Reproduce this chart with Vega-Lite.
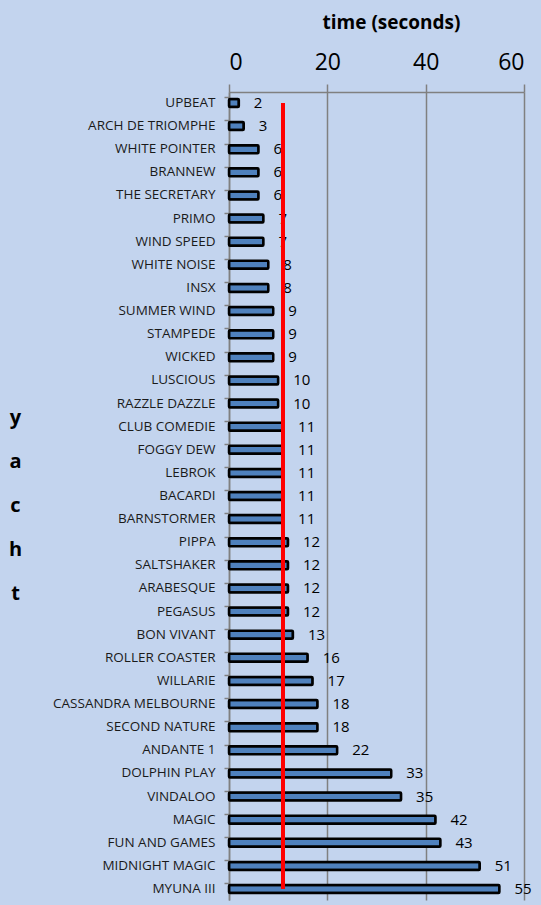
{
  "$schema": "https://vega.github.io/schema/vega-lite/v6.json",
  "width": 295,
  "height": 808,
  "autosize": {"type": "none"},
  "padding": {"left": 229, "top": 92, "right": 17, "bottom": 5},
  "background": "#c3d4ee",
  "config": {
    "view": {"stroke": null},
    "font": "Open Sans"
  },
  "data": {
    "values": [
      {"yacht": "UPBEAT", "time": 2},
      {"yacht": "ARCH DE TRIOMPHE", "time": 3},
      {"yacht": "WHITE POINTER", "time": 6},
      {"yacht": "BRANNEW", "time": 6},
      {"yacht": "THE SECRETARY", "time": 6},
      {"yacht": "PRIMO", "time": 7},
      {"yacht": "WIND SPEED", "time": 7},
      {"yacht": "WHITE NOISE", "time": 8},
      {"yacht": "INSX", "time": 8},
      {"yacht": "SUMMER WIND", "time": 9},
      {"yacht": "STAMPEDE", "time": 9},
      {"yacht": "WICKED", "time": 9},
      {"yacht": "LUSCIOUS", "time": 10},
      {"yacht": "RAZZLE DAZZLE", "time": 10},
      {"yacht": "CLUB COMEDIE", "time": 11},
      {"yacht": "FOGGY DEW", "time": 11},
      {"yacht": "LEBROK", "time": 11},
      {"yacht": "BACARDI", "time": 11},
      {"yacht": "BARNSTORMER", "time": 11},
      {"yacht": "PIPPA", "time": 12},
      {"yacht": "SALTSHAKER", "time": 12},
      {"yacht": "ARABESQUE", "time": 12},
      {"yacht": "PEGASUS", "time": 12},
      {"yacht": "BON VIVANT", "time": 13},
      {"yacht": "ROLLER COASTER", "time": 16},
      {"yacht": "WILLARIE", "time": 17},
      {"yacht": "CASSANDRA MELBOURNE", "time": 18},
      {"yacht": "SECOND NATURE", "time": 18},
      {"yacht": "ANDANTE 1", "time": 22},
      {"yacht": "DOLPHIN PLAY", "time": 33},
      {"yacht": "VINDALOO", "time": 35},
      {"yacht": "MAGIC", "time": 42},
      {"yacht": "FUN AND GAMES", "time": 43},
      {"yacht": "MIDNIGHT MAGIC", "time": 51},
      {"yacht": "MYUNA III", "time": 55}
    ]
  },
  "encoding": {
    "y": {
      "field": "yacht",
      "type": "nominal",
      "sort": null,
      "scale": {"paddingInner": 0.55, "paddingOuter": 0.25},
      "axis": {
        "title": ["y", "a", "c", "h", "t"],
        "titleAngle": 0,
        "titleX": -214,
        "titleY": 325,
        "titleAlign": "center",
        "titleBaseline": "middle",
        "titleFontSize": 20,
        "titleFontWeight": "bold",
        "titleColor": "#000000",
        "titleLineHeight": 44,
        "labelFontSize": 13.5,
        "labelColor": "#1a1a1a",
        "labelPadding": 9,
        "tickSize": 5,
        "tickColor": "#808080",
        "tickWidth": 1.5,
        "bandPosition": 0,
        "domainColor": "#808080",
        "domainWidth": 1.5,
        "grid": false
      }
    }
  },
  "layer": [
    {
      "mark": {"type": "bar", "fill": "#4f81bd", "stroke": "#000000", "strokeWidth": 2.5, "height": 8, "cornerRadius": 1},
      "encoding": {
        "x": {
          "field": "time",
          "type": "quantitative",
          "scale": {"domain": [0, 60], "nice": false},
          "axis": {
            "orient": "top",
            "values": [0, 20, 40, 60],
            "title": "time (seconds)",
            "titleFontSize": 19,
            "titleFontWeight": "bold",
            "titleColor": "#000000",
            "titleX": 162,
            "titleY": -70,
            "titleAlign": "center",
            "titleBaseline": "middle",
            "labelFontSize": 23,
            "labelColor": "#000000",
            "labelPadding": 10,
            "tickSize": 8,
            "tickColor": "#808080",
            "tickWidth": 1.5,
            "domainColor": "#808080",
            "domainWidth": 1.5,
            "grid": true,
            "gridColor": "#808080",
            "gridWidth": 1.5
          }
        }
      }
    },
    {
      "mark": {"type": "text", "align": "left", "baseline": "middle", "dx": 15, "fontSize": 15, "color": "#000000"},
      "encoding": {
        "x": {"field": "time", "type": "quantitative"},
        "text": {"field": "time", "type": "quantitative"}
      }
    },
    {
      "mark": {"type": "rule", "color": "#ff0000", "strokeWidth": 3.5},
      "encoding": {
        "x": {"datum": 11},
        "y": {"datum": "UPBEAT"},
        "y2": {"datum": "MYUNA III"}
      }
    }
  ]
}
